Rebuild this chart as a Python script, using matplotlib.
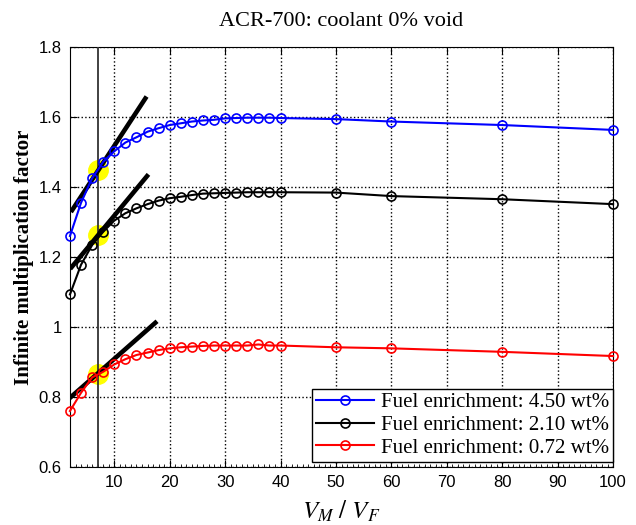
import matplotlib
matplotlib.use("Agg")
import matplotlib.pyplot as plt
from matplotlib.ticker import MultipleLocator, FuncFormatter

plt.rcParams['mathtext.fontset'] = 'stix'

# data
vmvf = [2, 4, 6, 8, 10, 12, 14, 16, 18, 20, 22, 24, 26, 28, 30, 32, 34, 36, 38, 40,
        50, 60, 80, 100]
k_450 = [1.260, 1.355, 1.425, 1.472, 1.502, 1.527, 1.542, 1.558, 1.568, 1.577,
         1.582, 1.587, 1.590, 1.592, 1.596, 1.597, 1.598, 1.598, 1.598, 1.597,
         1.594, 1.587, 1.577, 1.563]
k_210 = [1.093, 1.178, 1.234, 1.272, 1.304, 1.325, 1.339, 1.351, 1.361, 1.368,
         1.372, 1.377, 1.381, 1.382, 1.383, 1.384, 1.385, 1.385, 1.385, 1.385,
         1.384, 1.374, 1.365, 1.351]
k_072 = [0.760, 0.812, 0.856, 0.872, 0.893, 0.908, 0.920, 0.927, 0.934, 0.939,
         0.942, 0.944, 0.946, 0.947, 0.947, 0.947, 0.947, 0.950, 0.947, 0.947,
         0.942, 0.939, 0.929, 0.917]

labels = ['Fuel enrichment: 4.50 wt%', 'Fuel enrichment: 2.10 wt%',
          'Fuel enrichment: 0.72 wt%']
colors = ['#0000ff', 'black', '#ff0000']

# tangent lines (x ends, y ends) and highlighted points
tan_x = [[2.4, 15.6], [2.3, 15.9], [2.25, 17.4]]
tan_y = [[1.334, 1.653], [1.171, 1.431], [0.801, 1.012]]
opt_x = 7
opt_y = [1.449, 1.263, 0.865]

fig = plt.figure(figsize=(6.36, 5.25), dpi=100)
ax = fig.add_axes([0.110, 0.1105, 0.854, 0.80])

for ys, c, lab in zip([k_450, k_210, k_072], colors, labels):
    ax.plot(vmvf, ys, '-o', color=c, lw=1.5, ms=6.5, mfc='none', mew=1.2,
            label=lab, clip_on=False, zorder=5)

for y in opt_y:
    ax.plot(opt_x, y, 'o', color='#ffff00', ms=14, zorder=2)

for tx, ty in zip(tan_x, tan_y):
    ax.plot(tx, ty, '-', color='black', lw=3.3, zorder=4)

ax.axvline(opt_x, color='#333333', lw=1.3, zorder=3)

ax.set_xlim(2, 100)
ax.set_ylim(0.6, 1.8)
ax.set_xticks(range(10, 101, 10))
ax.xaxis.set_minor_locator(MultipleLocator(1))
ax.set_yticks([0.6, 0.8, 1.0, 1.2, 1.4, 1.6, 1.8])
ax.yaxis.set_major_formatter(FuncFormatter(lambda v, p: '%g' % v))
ax.tick_params(which='major', direction='in', top=True, right=True,
               labelsize=12, pad=6, length=5)
ax.tick_params(which='minor', direction='in', top=False, length=2)
for lbl in ax.get_xticklabels() + ax.get_yticklabels():
    lbl.set_family('Liberation Sans')
ax.grid(True, which='major', linestyle=':', color='black', lw=1)
ax.set_axisbelow(True)

serif = 'Liberation Serif'
ax.set_title('ACR-700: coolant 0% void', family=serif, fontsize=16, pad=15)
ax.set_ylabel('Infinite multiplication factor', family=serif, fontsize=15,
              fontweight='bold')
ax.yaxis.set_label_coords(-0.066, 0.5)
ax.set_xlabel(r'$V_M\ /\ V_F$', fontsize=18, labelpad=6)

leg = ax.legend(loc='lower right', bbox_to_anchor=(1.0, 0.012), borderaxespad=0,
                prop={'family': serif, 'size': 15}, fancybox=False,
                edgecolor='black', framealpha=1, handlelength=2.8,
                borderpad=0.2, labelspacing=0.15, handletextpad=0.3)
leg.get_frame().set_linewidth(1)

fig.savefig('out.png', dpi=100)
